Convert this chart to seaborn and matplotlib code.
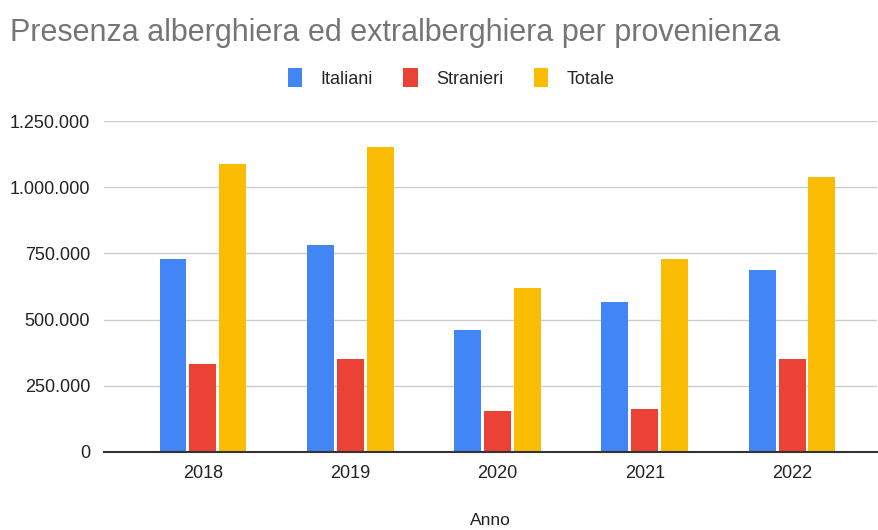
# Presenze alberghiere ed extralberghiere per provenienza

import pandas as pd
import matplotlib
matplotlib.use("Agg")
import matplotlib.pyplot as plt
import seaborn as sns
from matplotlib.ticker import FuncFormatter

# Data
anni = ["2018", "2019", "2020", "2021", "2022"]
italiani = [727000, 780000, 462000, 567000, 686000]
stranieri = [332000, 350000, 156000, 161000, 350000]
totale = [1087000, 1151000, 620000, 727000, 1040000]
serie = ["Italiani", "Stranieri", "Totale"]
colori = ["#4285F4", "#EA4335", "#FBBC04"]

# Long format for seaborn
df = pd.DataFrame({
    "Anno": anni * 3,
    "Valore": italiani + stranieri + totale,
    "Serie": [s for s in serie for _ in anni],
})

sns.set_theme(style="white")
plt.rcParams["font.family"] = ["Liberation Sans", "DejaVu Sans"]

fig = plt.figure(figsize=(8.79, 5.30), dpi=100)
ax = fig.add_axes([104 / 879, 78 / 530, 773 / 879, 331 / 530])

sns.barplot(data=df, x="Anno", y="Valore", hue="Serie", hue_order=serie,
            palette=colori, width=0.61, gap=0.1, saturation=1,
            edgecolor="none", ax=ax)

# Axes styling
ax.set_ylim(0, 1250000)
ax.set_xlim(-0.672, 4.577)
ax.set_yticks([0, 250000, 500000, 750000, 1000000, 1250000])
ax.yaxis.set_major_formatter(FuncFormatter(lambda v, p: f"{int(v):,}".replace(",", ".")))
ax.grid(axis="y", color="#cccccc", linewidth=1)
ax.set_axisbelow(True)
for s in ["top", "right", "left"]:
    ax.spines[s].set_visible(False)
ax.spines["bottom"].set_color("#333333")
ax.spines["bottom"].set_linewidth(1.5)
ax.tick_params(axis="both", length=0, labelsize=13, labelcolor="#222222")
ax.tick_params(axis="y", pad=10)
ax.tick_params(axis="x", pad=9)
ax.set_ylabel("")
ax.set_xlabel("Anno", fontsize=12.5, color="#222222", labelpad=23)

# Legend at the top
sns.move_legend(ax, "center", bbox_to_anchor=(0.449, 1.13), ncol=3,
                frameon=False, title=None, fontsize=13,
                handlelength=0.8, handleheight=1.2, handletextpad=1.0,
                columnspacing=1.7)

fig.text(10 / 879, 1 - 33 / 530, "Presenza alberghiera ed extralberghiera per provenienza",
         fontsize=22, color="#757575", va="center", ha="left")

fig.savefig("out.png", dpi=100)
